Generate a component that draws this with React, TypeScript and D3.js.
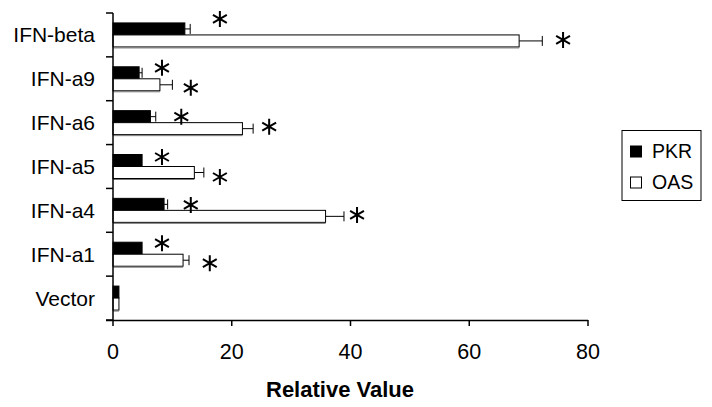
import React from "react";
import * as d3 from "d3";

const categories = ["IFN-beta", "IFN-a9", "IFN-a6", "IFN-a5", "IFN-a4", "IFN-a1", "Vector"];
const pkrValues = [12.1, 4.4, 6.3, 4.9, 8.6, 4.9, 1.0];
const pkrErrors = [0.9, 0.5, 0.9, 0, 0.6, 0, 0];
const oasValues = [68.4, 7.9, 21.8, 13.7, 35.8, 11.8, 1.0];
const oasErrors = [3.9, 2.1, 1.8, 1.6, 3.1, 1.0, 0];
// significance markers (x in data units)
const pkrStarX = [18, 8.25, 11.5, 8.25, 13.1, 8.25, null];
const oasStarX = [75.8, 13.1, 26.3, 18, 41.1, 16.3, null];
const xTicks = [0, 20, 40, 60, 80];
const seriesNames = ["PKR", "OAS"];

// annotation vertical nudges (px)
const pkrStarDy = [-10, -5, 0, -3.5, 0.6, -5, 0];
const oasStarDy = [-1, 3, -2, 4.5, -1.4, 3, 0];

const W = 712;
const H = 407;
const FONT = "Arial, 'Liberation Sans', sans-serif";

function Star({ cx, cy, r = 8 }: { cx: number; cy: number; r?: number }) {
  const a = Math.PI / 6;
  const dx = r * Math.cos(a);
  const dy = r * Math.sin(a);
  const d = `M${cx},${cy - r}L${cx},${cy + r}M${cx - dx},${cy - dy}L${cx + dx},${cy + dy}M${cx - dx},${cy + dy}L${cx + dx},${cy - dy}`;
  return <path d={d} stroke="#000" strokeWidth={2} fill="none" />;
}

export default function App() {
  const x = d3.scaleLinear().domain([0, 80]).range([113, 588]);
  const y = d3.scaleBand<string>().domain(categories).range([13, 320]).paddingInner(0);
  const bw = y.bandwidth();
  const barH = 12;
  const bands = categories.map((c) => y(c) as number);
  const boundaries = [...bands, 320];

  return (
    <svg width={W} height={H} style={{ position: "absolute", left: 0, top: 0, background: "#fff" }} fontFamily={FONT}>
      <rect x={0} y={0} width={W} height={H} fill="#fff" />
      {/* bars */}
      {categories.map((c, i) => {
        const y0 = (y(c) as number) + bw / 2 - barH;
        const pkrEnd = x(pkrValues[i]);
        const oasEnd = x(oasValues[i]);
        const pkrErrEnd = x(pkrValues[i] + pkrErrors[i]);
        const oasErrEnd = x(oasValues[i] + oasErrors[i]);
        const pc = y0 + barH / 2;
        const oc = y0 + barH + barH / 2;
        return (
          <g key={c}>
            {pkrErrors[i] > 0 && (
              <g stroke="#000" strokeWidth={1}>
                <line x1={pkrEnd} x2={pkrErrEnd} y1={pc} y2={pc} />
                <line x1={pkrErrEnd} x2={pkrErrEnd} y1={pc - 5} y2={pc + 5} />
              </g>
            )}
            {oasErrors[i] > 0 && (
              <g stroke="#000" strokeWidth={1}>
                <line x1={oasEnd} x2={oasErrEnd} y1={oc} y2={oc} />
                <line x1={oasErrEnd} x2={oasErrEnd} y1={oc - 5} y2={oc + 5} />
              </g>
            )}
            <rect x={x(0)} y={y0} width={pkrEnd - x(0)} height={barH} fill="#000" stroke="#000" strokeWidth={1} />
            <rect x={x(0)} y={y0 + barH} width={oasEnd - x(0)} height={barH} fill="#fff" stroke="#000" strokeWidth={1} />
            <line x1={x(0)} x2={oasEnd} y1={y0 + 2 * barH + 1} y2={y0 + 2 * barH + 1} stroke="#777" strokeWidth={1} />
            {pkrStarX[i] != null && <Star cx={x(pkrStarX[i] as number)} cy={pc + pkrStarDy[i]} />}
            {oasStarX[i] != null && <Star cx={x(oasStarX[i] as number)} cy={oc + oasStarDy[i]} />}
          </g>
        );
      })}
      {/* y axis */}
      <line x1={113} x2={113} y1={13} y2={321} stroke="#000" strokeWidth={1.5} />
      {boundaries.map((b, i) => (
        <line key={i} x1={106} x2={113} y1={b} y2={b} stroke="#000" strokeWidth={1.5} />
      ))}
      {categories.map((c) => (
        <text key={c} x={95} y={(y(c) as number) + bw / 2 + 7.5} textAnchor="end" fontSize={21} fill="#000">
          {c}
        </text>
      ))}
      {/* x axis */}
      <line x1={106} x2={x(80)} y1={320.5} y2={320.5} stroke="#000" strokeWidth={1.5} />
      {xTicks.map((t) => (
        <g key={t}>
          <line x1={x(t)} x2={x(t)} y1={320} y2={326} stroke="#000" strokeWidth={1.5} />
          <text x={x(t)} y={359} textAnchor="middle" fontSize={21.5} fill="#000">
            {t}
          </text>
        </g>
      ))}
      <text x={340} y={397} textAnchor="middle" fontSize={22} fontWeight="bold" fill="#000">
        Relative Value
      </text>
      {/* legend */}
      <rect x={622} y={130.5} width={79} height={70} fill="#fff" stroke="#000" strokeWidth={1} />
      {seriesNames.map((s, i) => (
        <g key={s} transform={`translate(0, ${151.5 + i * 31})`}>
          <rect x={630.5} y={-5.5} width={11} height={11} fill={i === 0 ? "#000" : "#fff"} stroke="#000" strokeWidth={1} />
          <text x={652} y={6} fontSize={19.5} fill="#000">
            {s}
          </text>
        </g>
      ))}
    </svg>
  );
}
